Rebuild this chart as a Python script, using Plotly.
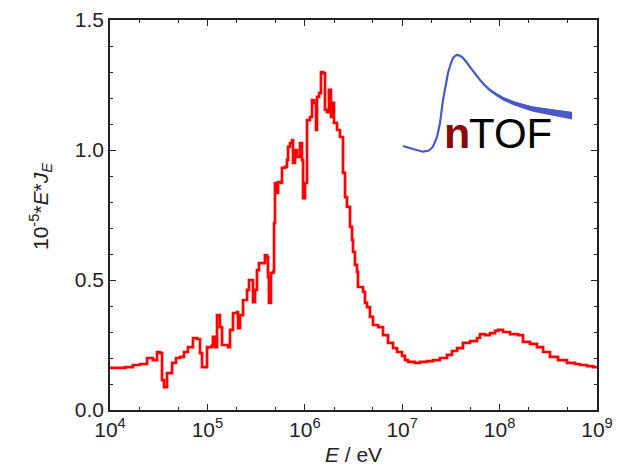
import plotly.graph_objects as go

# Energy (eV) and 10^-5 * E * J_E, step histogram
energy = [1.00e4, 1.43e4, 1.72e4, 2.03e4, 2.40e4, 2.76e4, 3.04e4, 3.26e4, 3.42e4, 3.58e4,
          3.85e4, 4.34e4, 4.76e4, 5.24e4, 5.75e4, 6.32e4, 7.11e4, 7.82e4, 8.40e4, 8.81e4,
          9.44e4, 9.91e4, 1.114e5, 1.140e5, 1.197e5, 1.256e5, 1.346e5, 1.413e5, 1.626e5, 1.706e5,
          1.832e5, 2.014e5, 2.061e5, 2.163e5, 2.323e5, 2.553e5, 2.673e5, 2.871e5, 2.938e5, 3.083e5,
          3.228e5, 3.388e5, 3.724e5, 3.899e5, 4.093e5, 4.188e5, 4.285e5, 4.498e5, 4.710e5, 4.831e5,
          4.943e5, 5.058e5, 5.309e5, 5.702e5, 5.834e5, 6.266e5, 6.561e5, 6.730e5, 7.047e5, 7.396e5,
          7.568e5, 7.925e5, 8.318e5, 8.933e5, 9.354e5, 9.594e5, 1.005e6, 1.054e6, 1.130e6, 1.186e6,
          1.242e6, 1.303e6, 1.334e6, 1.400e6, 1.466e6, 1.538e6, 1.611e6, 1.690e6, 1.770e6, 1.858e6,
          1.945e6, 1.995e6, 2.143e6, 2.296e6, 2.466e6, 2.588e6, 2.710e6, 2.911e6, 3.055e6, 3.126e6,
          3.273e6, 3.436e6, 3.516e6, 3.963e6, 4.150e6, 4.355e6, 4.667e6, 5.012e6, 5.649e6, 6.353e6,
          7.145e6, 8.054e6, 8.851e6, 9.954e6, 1.069e7, 1.148e7, 1.352e7, 1.524e7, 1.799e7, 2.070e7,
          2.443e7, 2.884e7, 3.243e7, 3.656e7, 4.207e7, 4.966e7, 5.861e7, 6.295e7, 7.079e7, 7.962e7,
          8.974e7, 9.638e7, 1.084e8, 1.279e8, 1.545e8, 1.738e8, 2.051e8, 2.421e8, 2.793e8, 3.289e8,
          3.981e8, 4.920e8, 5.943e8, 6.683e8, 7.889e8, 9.099e8, 1.00e9]
flux = [0.162, 0.165, 0.173, 0.177, 0.200, 0.192, 0.223, 0.219, 0.115, 0.088,
        0.142, 0.181, 0.200, 0.204, 0.223, 0.242, 0.277, 0.273, 0.219, 0.165,
        0.165, 0.242, 0.250, 0.281, 0.242, 0.365, 0.319, 0.250, 0.242, 0.308,
        0.373, 0.377, 0.315, 0.365, 0.423, 0.462, 0.500, 0.500, 0.415, 0.462,
        0.538, 0.565, 0.565, 0.596, 0.588, 0.512, 0.412, 0.527, 0.531, 0.719,
        0.873, 0.835, 0.877, 0.873, 0.931, 0.935, 0.962, 1.012, 1.027, 1.038,
        0.950, 1.000, 0.973, 1.027, 0.962, 0.815, 0.873, 1.115, 1.127, 1.192,
        1.181, 1.077, 1.204, 1.219, 1.300, 1.296, 1.154, 1.146, 1.231, 1.127,
        1.181, 1.104, 1.077, 1.050, 0.912, 0.819, 0.781, 0.704, 0.654, 0.608,
        0.558, 0.531, 0.473, 0.454, 0.412, 0.396, 0.358, 0.327, 0.319, 0.288,
        0.258, 0.238, 0.223, 0.208, 0.192, 0.185, 0.181, 0.185, 0.188, 0.192,
        0.200, 0.212, 0.227, 0.238, 0.258, 0.265, 0.277, 0.292, 0.288, 0.296,
        0.304, 0.308, 0.300, 0.292, 0.288, 0.262, 0.254, 0.242, 0.223, 0.204,
        0.192, 0.181, 0.177, 0.173, 0.169, 0.165, 0.169]

x_tickvals = [1e4, 1e5, 1e6, 1e7, 1e8, 1e9]
x_ticktext = ["10<sup>4</sup>", "10<sup>5</sup>", "10<sup>6</sup>",
              "10<sup>7</sup>", "10<sup>8</sup>", "10<sup>9</sup>"]
y_tickvals = [0.0, 0.5, 1.0, 1.5]
y_ticktext = ["0.0", "0.5", "1.0", "1.5"]

W, H = 619, 472
L, R, T, B = 110, 22, 20, 62
PW, PH = W - L - R, H - T - B


def px(x, y):
    return (x - L) / PW, (H - B - y) / PH


fig = go.Figure()
fig.add_trace(go.Scatter(x=energy, y=flux, mode="lines", line_shape="hv",
                         line=dict(color="#ff0000", width=2.7), showlegend=False,
                         hoverinfo="skip"))

# nTOF logo (decoration)
logo_pts = [(403, 146), (413, 149), (423, 151.7), (429, 150.5), (433, 146.7), (437, 137),
            (440, 123), (443, 100), (446, 84), (448, 73), (451, 63), (453, 58), (456, 55.3),
            (458, 55), (462, 57), (466, 61.5), (470, 67), (475, 73.5), (480, 80), (485, 85.5),
            (490, 90), (496, 94), (503, 98), (513, 102), (523, 105), (533, 107.5),
            (543, 109), (557, 111), (572, 113)]
path = ""
for i, (a, b) in enumerate(logo_pts):
    u, v = px(a, b)
    path += ("M" if i == 0 else "L") + f"{u:.4f},{v:.4f} "
fig.add_shape(type="path", path=path, xref="paper", yref="paper",
              line=dict(color="#4a5ac4", width=2.2))
# thickening tail
tail = [p for p in logo_pts if p[0] >= 480]
top = []
bot = []
for (a, b) in tail:
    th = 1.0 + 5.5 * (a - 480) / (572 - 480)
    top.append(px(a, b - 1.0))
    bot.append(px(a, b + th))
tp = "M" + " L".join(f"{u:.4f},{v:.4f}" for u, v in top + bot[::-1]) + " Z"
fig.add_shape(type="path", path=tp, xref="paper", yref="paper",
              line=dict(width=0), fillcolor="#4a5ac4")

u, v = px(456.5, 151)
fig.add_annotation(x=u, y=v, xref="paper", yref="paper", text="<b>n</b>", showarrow=False,
                   xanchor="center", yanchor="bottom", yshift=-8,
                   font=dict(family="Liberation Sans, Arial", size=43, color="#8b0a0a"))
u, v = px(467, 151)
fig.add_annotation(x=u, y=v, xref="paper", yref="paper", text="TOF", showarrow=False,
                   xanchor="left", yanchor="bottom", yshift=-8,
                   font=dict(family="Liberation Sans, Arial", size=42, color="#000000"))

# y-axis title
u, v = px(41, 207)
fig.add_annotation(x=u, y=v, xref="paper", yref="paper", textangle=-90, showarrow=False,
                   xanchor="center", yanchor="middle",
                   text="10<sup>-5</sup>*<i>E</i>*<i>J</i><sub><i>E</i></sub>",
                   font=dict(family="Liberation Sans, Arial", size=21, color="#222222"))

fig.update_layout(
    width=W, height=H,
    margin=dict(l=L, r=R, t=T, b=B, pad=0),
    paper_bgcolor="white", plot_bgcolor="white",
    font=dict(family="Liberation Sans, Arial", size=21, color="#222222"),
    xaxis=dict(type="log", range=[4, 9], tickvals=x_tickvals, ticktext=x_ticktext,
               automargin=False,
               ticks="inside", ticklen=6, tickwidth=1.3, tickcolor="#222222",
               showline=True, linecolor="#222222", linewidth=1.6, mirror="ticks",
               showgrid=False, zeroline=False,
               minor=dict(ticks="inside", ticklen=3.5, tickwidth=1.2, tickcolor="#222222",
                          showgrid=False),
               title=dict(text="<i>E</i> / eV", font=dict(size=21), standoff=7)),
    yaxis=dict(range=[0, 1.5], tickvals=y_tickvals, ticktext=y_ticktext,
               automargin=False,
               ticks="inside", ticklen=6, tickwidth=1.3, tickcolor="#222222",
               showline=True, linecolor="#222222", linewidth=1.6, mirror="ticks",
               showgrid=False, zeroline=False,
               minor=dict(ticks="inside", ticklen=3.5, tickwidth=1.2, tickcolor="#222222",
                          dtick=0.1, showgrid=False)),
)

fig.write_html("out.html")
